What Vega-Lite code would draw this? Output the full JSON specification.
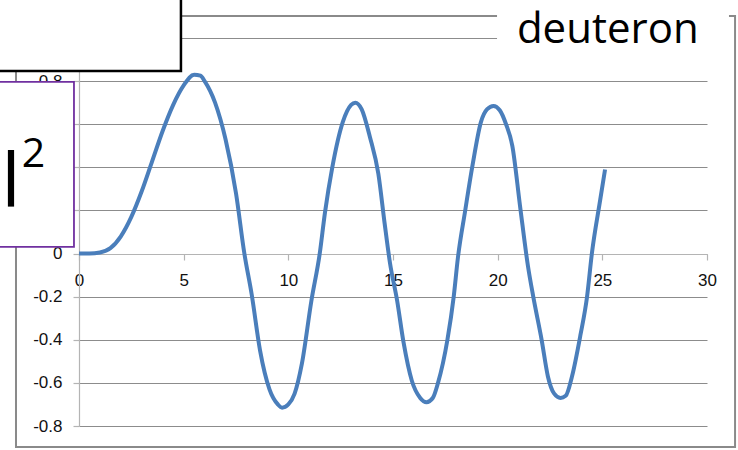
{
  "$schema": "https://vega.github.io/schema/vega-lite/v6.json",
  "width": 628,
  "height": 388,
  "autosize": "none",
  "padding": {"left": 79, "top": 38, "right": 31, "bottom": 24},
  "background": "white",
  "view": {"stroke": null},
  "config": {
    "axis": {"labelFont": "Liberation Sans", "labelFontSize": 17, "labelColor": "#111", "domainColor": "#b4b4b4", "tickColor": "#b4b4b4", "gridColor": "#8c8c8c", "gridWidth": 1, "domainWidth": 1.2, "tickWidth": 1.2}
  },
  "datasets": {
    "curve": [
      {"x": 0, "y": 0}, {"x": 0.5, "y": 0}, {"x": 1, "y": 0.005}, {"x": 1.5, "y": 0.025},
      {"x": 2, "y": 0.08}, {"x": 2.5, "y": 0.17}, {"x": 3, "y": 0.29}, {"x": 3.5, "y": 0.43},
      {"x": 4, "y": 0.57}, {"x": 4.5, "y": 0.69}, {"x": 5, "y": 0.78}, {"x": 5.5, "y": 0.83},
      {"x": 5.8, "y": 0.825}, {"x": 6, "y": 0.8}, {"x": 6.5, "y": 0.7}, {"x": 7, "y": 0.53},
      {"x": 7.5, "y": 0.28}, {"x": 7.9, "y": 0.0}, {"x": 8.25, "y": -0.19}, {"x": 8.65, "y": -0.45},
      {"x": 9.1, "y": -0.63}, {"x": 9.5, "y": -0.7}, {"x": 9.7, "y": -0.715}, {"x": 10, "y": -0.7},
      {"x": 10.3, "y": -0.65}, {"x": 10.65, "y": -0.51}, {"x": 11.1, "y": -0.22}, {"x": 11.5, "y": 0.0},
      {"x": 11.75, "y": 0.19}, {"x": 12.1, "y": 0.4}, {"x": 12.6, "y": 0.61}, {"x": 13, "y": 0.69},
      {"x": 13.2, "y": 0.7}, {"x": 13.5, "y": 0.67}, {"x": 13.9, "y": 0.54}, {"x": 14.3, "y": 0.37},
      {"x": 14.6, "y": 0.14}, {"x": 14.85, "y": -0.04}, {"x": 15.2, "y": -0.22}, {"x": 15.5, "y": -0.41},
      {"x": 15.9, "y": -0.59}, {"x": 16.3, "y": -0.67}, {"x": 16.6, "y": -0.69}, {"x": 16.9, "y": -0.67},
      {"x": 17.15, "y": -0.6}, {"x": 17.6, "y": -0.4}, {"x": 17.9, "y": -0.2}, {"x": 18.1, "y": -0.02},
      {"x": 18.45, "y": 0.2}, {"x": 18.8, "y": 0.41}, {"x": 19.2, "y": 0.61}, {"x": 19.5, "y": 0.67},
      {"x": 19.8, "y": 0.685}, {"x": 20.1, "y": 0.665}, {"x": 20.4, "y": 0.6}, {"x": 20.7, "y": 0.5},
      {"x": 21.07, "y": 0.22}, {"x": 21.45, "y": -0.06}, {"x": 21.7, "y": -0.2}, {"x": 22.1, "y": -0.4},
      {"x": 22.4, "y": -0.57}, {"x": 22.7, "y": -0.65}, {"x": 23.0, "y": -0.67}, {"x": 23.25, "y": -0.66},
      {"x": 23.55, "y": -0.57}, {"x": 23.95, "y": -0.38}, {"x": 24.27, "y": -0.2}, {"x": 24.5, "y": 0.0},
      {"x": 24.9, "y": 0.25}, {"x": 25.13, "y": 0.39}
    ],
    "frame": [{"x": -3.01, "x2": 31.34, "y": 1.102, "y2": -0.897}],
    "blackbox": [{"x": -4.5, "x2": 4.87, "y": 1.4, "y2": 0.847}],
    "purplebox": [{"x": -4.5, "x2": -0.24, "y": 0.796, "y2": 0.0306}],
    "whitebox": [{"x": 19.97, "x2": 31.05, "y": 1.4, "y2": 0.9675}],
    "bar": [{"x": -3.25, "y": 0.355, "t": "|"}],
    "sup": [{"x": -2.17, "y": 0.455, "t": "2"}],
    "word": [{"x": 20.92, "y": 0.977, "t": "deuteron"}]
  },
  "layer": [
    {
      "data": {"name": "frame"},
      "mark": {"type": "rect", "fill": null, "stroke": "#8a8a8a", "strokeWidth": 2},
      "encoding": {
        "x": {"field": "x", "type": "quantitative", "scale": {"domain": [0, 30], "nice": false, "zero": false},
              "axis": {"title": null, "values": [0, 5, 10, 15, 20, 25, 30], "grid": false, "orient": "bottom", "offset": -172, "tickSize": 6, "labelPadding": 12, "labelFlush": false}},
        "x2": {"field": "x2"},
        "y": {"field": "y", "type": "quantitative", "scale": {"domain": [-0.8, 1.0], "nice": false, "zero": false},
              "axis": {"title": null, "values": [-0.8, -0.6, -0.4, -0.2, 0, 0.2, 0.4, 0.6, 0.8, 1.0], "grid": true, "tickSize": 6, "labelPadding": 11, "labelExpr": "toString(datum.value)"}},
        "y2": {"field": "y2"}
      }
    },
    {
      "data": {"name": "curve"},
      "mark": {"type": "line", "color": "#4a7ebb", "strokeWidth": 4, "interpolate": "monotone"},
      "encoding": {
        "x": {"field": "x", "type": "quantitative"},
        "y": {"field": "y", "type": "quantitative"}
      }
    },
    {
      "data": {"name": "blackbox"},
      "mark": {"type": "rect", "fill": "white", "stroke": "black", "strokeWidth": 2.5},
      "encoding": {
        "x": {"field": "x", "type": "quantitative"}, "x2": {"field": "x2"},
        "y": {"field": "y", "type": "quantitative"}, "y2": {"field": "y2"}
      }
    },
    {
      "data": {"name": "purplebox"},
      "mark": {"type": "rect", "fill": "white", "stroke": "#7030a0", "strokeWidth": 1.8},
      "encoding": {
        "x": {"field": "x", "type": "quantitative"}, "x2": {"field": "x2"},
        "y": {"field": "y", "type": "quantitative"}, "y2": {"field": "y2"}
      }
    },
    {
      "data": {"name": "whitebox"},
      "mark": {"type": "rect", "fill": "white", "stroke": null},
      "encoding": {
        "x": {"field": "x", "type": "quantitative"}, "x2": {"field": "x2"},
        "y": {"field": "y", "type": "quantitative"}, "y2": {"field": "y2"}
      }
    },
    {
      "data": {"name": "bar"},
      "mark": {"type": "text", "font": "Open Sans", "fontSize": 58, "fontWeight": "bold", "color": "black", "align": "center", "baseline": "middle"},
      "encoding": {
        "x": {"field": "x", "type": "quantitative"},
        "y": {"field": "y", "type": "quantitative"},
        "text": {"field": "t"}
      }
    },
    {
      "data": {"name": "sup"},
      "mark": {"type": "text", "font": "Open Sans", "fontSize": 41, "color": "black", "align": "center", "baseline": "middle"},
      "encoding": {
        "x": {"field": "x", "type": "quantitative"},
        "y": {"field": "y", "type": "quantitative"},
        "text": {"field": "t"}
      }
    },
    {
      "data": {"name": "word"},
      "mark": {"type": "text", "font": "Open Sans", "fontSize": 42, "color": "black", "align": "left", "baseline": "alphabetic"},
      "encoding": {
        "x": {"field": "x", "type": "quantitative"},
        "y": {"field": "y", "type": "quantitative"},
        "text": {"field": "t"}
      }
    }
  ]
}
